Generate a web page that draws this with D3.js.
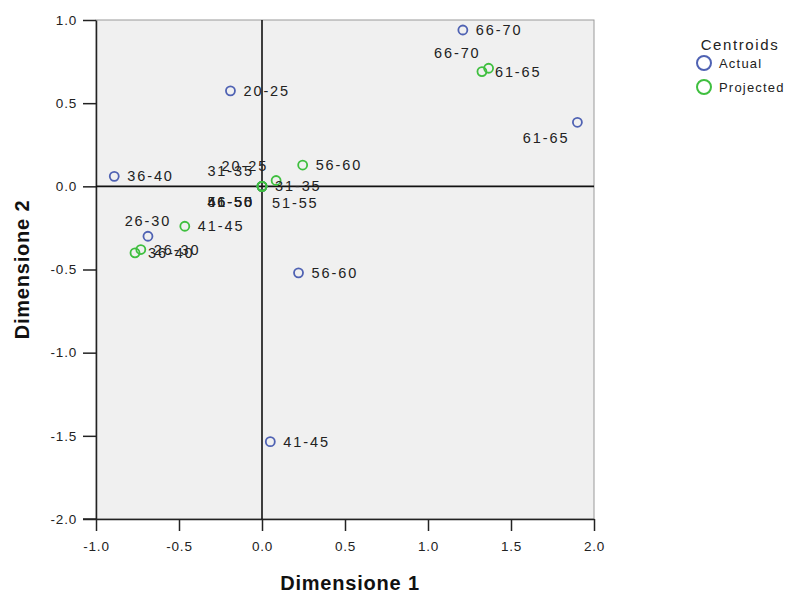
<!DOCTYPE html>
<html><head><meta charset="utf-8">
<script src="https://cdn.jsdelivr.net/npm/d3@7"></script>
<style>
body{margin:0;background:#fff;}
text{font-family:"Liberation Sans",Arial,sans-serif;}
</style></head>
<body><svg id="c" width="788" height="593"></svg>
<script>
const categories = ["20-25","26-30","31-35","36-40","41-45","46-50","51-55","56-60","61-65","66-70"];
const actualX = [-0.19,-0.687,0,-0.89,0.05,0,0,0.22,1.90,1.21];
const actualY = [0.574,-0.30,0,0.06,-1.535,0,0,-0.52,0.385,0.94];
const projectedX = [0.085,-0.73,0,-0.765,-0.465,0,0,0.245,1.325,1.365];
const projectedY = [0.035,-0.38,0,-0.40,-0.24,0,0,0.128,0.69,0.71];
// label placement codes (r=right, t=top, tl=top-left, bl=bottom-left, br=bottom-right)
const actualLabelPos = ["r","t","tl","r","r","bl","bl","r","bl","r"];
const projectedLabelPos = ["tl","r","r","r","r","bl","br","r","r","tl"];
const xTicks = [-1.0,-0.5,0.0,0.5,1.0,1.5,2.0];
const yTicks = [1.0,0.5,0.0,-0.5,-1.0,-1.5,-2.0];
const seriesNames = ["Actual","Projected"];
const legendTitle = "Centroids";
const xTitle = "Dimensione 1", yTitle = "Dimensione 2";

const colors = {Actual:"#4f62b3", Projected:"#3fbf3f"};
const svg = d3.select("#c");
const L=96,R=594,T=20,B=519;
const x = d3.scaleLinear().domain([-1,2]).range([L,R]);
const y = d3.scaleLinear().domain([-2,1]).range([B,T]);
const fmt = d => d3.format(".1f")(d).replace("\u2212","-");

svg.append("rect").attr("x",L).attr("y",T).attr("width",R-L).attr("height",B-T)
  .attr("fill","#f0f0f0").attr("stroke","#9a9a9a").attr("stroke-width",1);

// axes
const xAxis = d3.axisBottom(x).tickValues(xTicks).tickFormat(fmt).tickSize(12).tickSizeOuter(0);
const gx = svg.append("g").attr("transform",`translate(0,${B})`).call(xAxis);
const yAxis = d3.axisLeft(y).tickValues(yTicks).tickFormat(fmt).tickSize(13).tickSizeOuter(0);
const gy = svg.append("g").attr("transform",`translate(${L},0)`).call(yAxis);
[gx,gy].forEach(g=>{
  g.select(".domain").attr("stroke","#222").attr("stroke-width",1.5);
  g.selectAll(".tick line").attr("stroke","#222").attr("stroke-width",1.5);
  g.selectAll(".tick text").attr("fill","#222").style("font-size","13.5px").style("letter-spacing","0.8px");
});
gx.selectAll(".tick text").attr("dy","1.45em").attr("y",12);
gy.selectAll(".tick text").attr("x",-19);
gx.append("line").attr("x1",L-13).attr("x2",L).attr("y1",0).attr("y2",0).attr("stroke","#222").attr("stroke-width",1.5);

// reference lines
svg.append("line").attr("x1",x(0)).attr("x2",x(0)).attr("y1",T).attr("y2",B).attr("stroke","#111").attr("stroke-width",1.6);
svg.append("line").attr("x1",L).attr("x2",R).attr("y1",y(0)).attr("y2",y(0)).attr("stroke","#111").attr("stroke-width",1.6);

// titles
svg.append("text").attr("x",(L+R)/2+5).attr("y",590).attr("text-anchor","middle")
  .style("font-weight","bold").style("font-size","20px").style("letter-spacing","0.8px").attr("fill","#111").text(xTitle);
svg.append("text").attr("transform",`translate(29,${(T+B)/2}) rotate(-90)`).attr("text-anchor","middle")
  .style("font-weight","bold").style("font-size","20px").style("letter-spacing","0.8px").attr("fill","#111").text(yTitle);

// points & labels
const off = {
  r:  {dx:13, dy:5, a:"start"},
  t:  {dx:0, dy:-10, a:"middle"},
  tl: {dx:-8, dy:-10, a:"end"},
  bl: {dx:-8, dy:21, a:"end"},
  br: {dx:10, dy:22, a:"start"}
};
function series(name, xs, ys, pos){
  const data = categories.map((c,i)=>({c, x:xs[i], y:ys[i], p:pos[i]}));
  const g = svg.append("g");
  g.selectAll("circle").data(data).join("circle")
    .attr("cx",d=>x(d.x)).attr("cy",d=>y(d.y)).attr("r",4.5)
    .attr("fill","none").attr("stroke",colors[name]).attr("stroke-width",1.8);
  return data;
}
const dA = series("Actual", actualX, actualY, actualLabelPos);
const dP = series("Projected", projectedX, projectedY, projectedLabelPos);
const lg = svg.append("g");
lg.selectAll("text").data(dA.concat(dP)).join("text")
  .attr("x",d=>x(d.x)+off[d.p].dx).attr("y",d=>y(d.y)+off[d.p].dy)
  .attr("text-anchor",d=>off[d.p].a)
  .style("font-size","14.5px").style("letter-spacing","1.9px").attr("fill","#222")
  .text(d=>d.c);

// legend
svg.append("text").attr("x",740).attr("y",50).attr("text-anchor","middle")
  .style("font-size","15px").style("letter-spacing","1.6px").attr("fill","#222").text(legendTitle);
const leg = svg.append("g").selectAll("g").data(seriesNames).join("g")
  .attr("transform",(d,i)=>`translate(704,${63+i*24})`);
leg.append("circle").attr("r",7).attr("fill","none").attr("stroke",d=>colors[d]).attr("stroke-width",2);
leg.append("text").attr("x",15).attr("y",5).style("font-size","13px").style("letter-spacing","1.2px").attr("fill","#222").text(d=>d);
</script></body></html>
